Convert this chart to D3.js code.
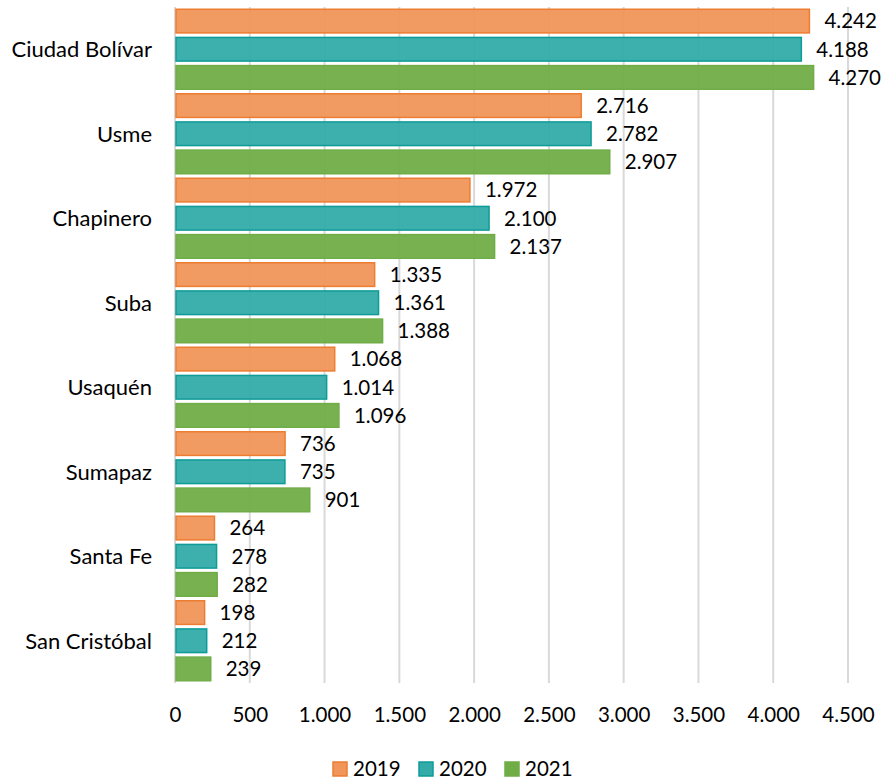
<!DOCTYPE html>
<html><head><meta charset="utf-8">
<script src="https://cdn.jsdelivr.net/npm/d3@7"></script>
<style>
body{margin:0;background:#fff;}
text{font-family:Lato,"Open Sans",sans-serif;fill:#000;}
</style></head>
<body><svg id="c" width="886" height="782"></svg>
<script>
const categories = ["Ciudad Bolívar","Usme","Chapinero","Suba","Usaquén","Sumapaz","Santa Fe","San Cristóbal"];
const years = ["2019","2020","2021"];
const values2019 = [4242,2716,1972,1335,1068,736,264,198];
const values2020 = [4188,2782,2100,1361,1014,735,278,212];
const values2021 = [4270,2907,2137,1388,1096,901,282,239];
const xTicks = [0,500,1000,1500,2000,2500,3000,3500,4000,4500];

const series = [values2019, values2020, values2021];
const fills = ["#F0965A","#33ABA9","#70AD47"];
const strokes = ["#ED7D31","#0E9C98","#70AD47"];

const loc = d3.formatLocale({decimal:",", thousands:".", grouping:[3], currency:["$",""]});
const fmt = loc.format(",d");

const svg = d3.select("#c");
const m = {left:175, right:848, top:7, bottom:683};
const x = d3.scaleLinear().domain([0,4500]).range([m.left, m.right]);
const y0 = d3.scaleBand().domain(categories).range([m.top, m.bottom]).padding(0);
const y1 = d3.scaleBand().domain(years).range([0, y0.bandwidth()]).paddingInner(0.16).paddingOuter(0.08);

// gridlines
const grid = svg.append("g");
grid.selectAll("line").data(xTicks).join("line")
  .attr("x1", d=>x(d)).attr("x2", d=>x(d))
  .attr("y1", m.top).attr("y2", m.bottom)
  .attr("stroke", "#d9d9d9").attr("stroke-width", 2);

// bars
const groups = svg.append("g").selectAll("g").data(categories).join("g")
  .attr("transform", d=>`translate(0,${y0(d)})`);
years.forEach((yr, s) => {
  groups.append("rect")
    .attr("x", x(0)+1)
    .attr("y", y1(yr))
    .attr("width", (d,i)=> x(series[s][i]) - x(0) - 1)
    .attr("height", y1.bandwidth())
    .attr("fill", fills[s]).attr("fill-opacity", 0.95)
    .attr("stroke", strokes[s]).attr("stroke-width", 1.5);
  groups.append("text")
    .attr("x", (d,i)=> x(series[s][i]) + 15)
    .attr("y", y1(yr) + y1.bandwidth()/2)
    .attr("dy", "0.36em")
    .attr("font-size", 20.5)
    .text((d,i)=> fmt(series[s][i]));
});

// category labels
svg.append("g").selectAll("text").data(categories).join("text")
  .attr("x", 152).attr("y", d=>y0(d)+y0.bandwidth()/2)
  .attr("dy","0.36em").attr("text-anchor","end").attr("font-size",22)
  .text(d=>d);

// x axis
const ax = svg.append("g").attr("transform", `translate(0,${m.bottom})`)
  .call(d3.axisBottom(x).tickValues(xTicks).tickFormat(fmt).tickSize(0).tickPadding(24));
ax.select(".domain").remove();
ax.selectAll("text").attr("font-size",20.5).attr("font-family","Lato, 'Open Sans', sans-serif").attr("fill","#000");

// legend
const lg = svg.append("g");
const lx = [333, 419, 505];
years.forEach((yr,s)=>{
  lg.append("rect").attr("x", lx[s]).attr("y", 762).attr("width", 14).attr("height", 14)
    .attr("fill", fills[s]).attr("stroke", strokes[s]).attr("stroke-width", 1.5);
  lg.append("text").attr("x", lx[s]+20).attr("y", 769).attr("dy","0.36em").attr("font-size",20.5).text(yr);
});
</script></body></html>
